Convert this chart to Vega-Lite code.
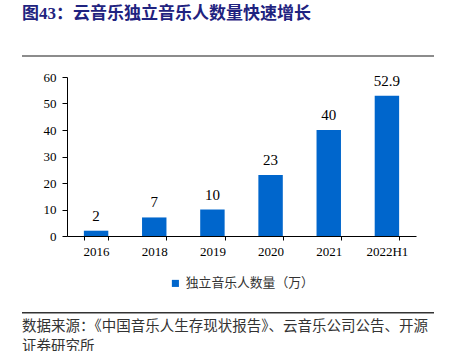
{
  "$schema": "https://vega.github.io/schema/vega-lite/v6.json",
  "padding": {"left": 22, "right": 20, "top": 5, "bottom": 0},
  "background": "white",
  "title": {
    "text": "图43：云音乐独立音乐人数量快速增长",
    "anchor": "start",
    "font": "Liberation Serif, Noto Sans CJK SC",
    "fontSize": 17,
    "fontWeight": "bold",
    "color": "#1F2380",
    "offset": 32
  },
  "spacing": 14,
  "config": {"view": {"stroke": null}},
  "vconcat": [
    {
      "width": 412,
      "height": 2,
      "data": {"values": [{"v": 0}]},
      "mark": {"type": "rect", "color": "#8C8C8C"},
      "encoding": {}
    },
    {
      "spacing": 0,
      "hconcat": [
        {
          "width": 21,
          "height": 159,
          "data": {"values": [{"t": ""}]},
          "mark": "text",
          "encoding": {"text": {"field": "t"}}
        },
        {
          "width": 349,
          "height": 159,
          "data": {
            "values": [
              {"year": "2016", "value": 2, "series": "独立音乐人数量（万）"},
              {"year": "2018", "value": 7, "series": "独立音乐人数量（万）"},
              {"year": "2019", "value": 10, "series": "独立音乐人数量（万）"},
              {"year": "2020", "value": 23, "series": "独立音乐人数量（万）"},
              {"year": "2021", "value": 40, "series": "独立音乐人数量（万）"},
              {"year": "2022H1", "value": 52.9, "series": "独立音乐人数量（万）"}
            ]
          },
          "encoding": {
            "x": {
              "field": "year",
              "type": "nominal",
              "sort": null,
              "scale": {"paddingInner": 0.58, "paddingOuter": 0.29},
              "axis": {
                "title": null,
                "labelAngle": 0,
                "tickBand": "extent",
                "domainColor": "#000",
                "tickColor": "#000",
                "tickSize": 4,
                "labelFont": "Liberation Serif",
                "labelFontSize": 13,
                "labelColor": "#000",
                "labelPadding": 5
              }
            },
            "y": {
              "field": "value",
              "type": "quantitative",
              "scale": {"domain": [0, 60]},
              "axis": {
                "title": null,
                "values": [0, 10, 20, 30, 40, 50, 60],
                "grid": false,
                "domainColor": "#000",
                "tickColor": "#000",
                "tickSize": 5,
                "labelFont": "Liberation Serif",
                "labelFontSize": 13,
                "labelColor": "#000",
                "labelPadding": 6
              }
            }
          },
          "layer": [
            {
              "mark": {"type": "bar"},
              "encoding": {
                "color": {
                  "field": "series",
                  "type": "nominal",
                  "scale": {"range": ["#0066CC"]},
                  "legend": {
                    "title": null,
                    "orient": "none",
                    "legendX": 140,
                    "legendY": 193,
                    "padding": 7,
                    "symbolType": "square",
                    "symbolSize": 50,
                    "labelFont": "Noto Sans CJK SC",
                    "labelFontSize": 12.8,
                    "labelColor": "#333"
                  }
                }
              }
            },
            {
              "mark": {"type": "text", "baseline": "bottom", "dy": -7, "font": "Liberation Serif", "fontSize": 15, "color": "#000"},
              "encoding": {"text": {"field": "value", "type": "quantitative"}}
            }
          ]
        }
      ]
    },
    {
      "width": 412,
      "height": 1.5,
      "data": {"values": [{"v": 0}]},
      "mark": {"type": "rect", "color": "#333333"},
      "encoding": {},
      "title": {
        "text": ["数据来源：《中国音乐人生存现状报告》、云音乐公司公告、开源", "证券研究所"],
        "orient": "bottom",
        "anchor": "start",
        "font": "Noto Sans CJK SC",
        "fontSize": 14.5,
        "fontWeight": "normal",
        "color": "#333333",
        "lineHeight": 20,
        "offset": 6
      }
    }
  ],
  "resolve": {"legend": {"color": "independent"}}
}
